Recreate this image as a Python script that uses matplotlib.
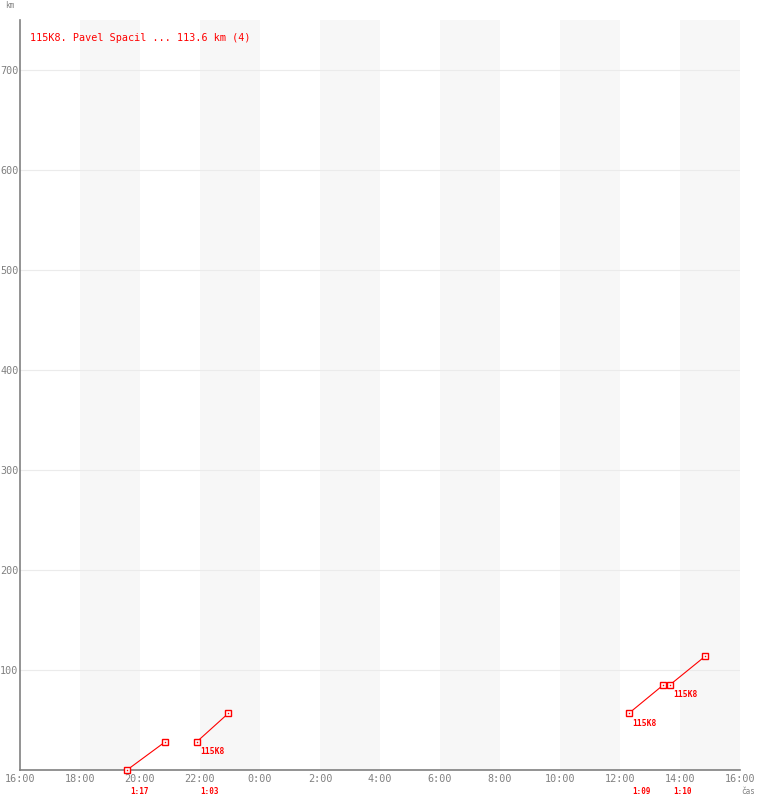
import matplotlib
matplotlib.use("Agg")
import matplotlib.pyplot as plt
from matplotlib.ticker import FixedLocator

# legs of the route: start time, duration, km at start / end
leg_start = ["19:34", "21:54", "12:18", "13:40"]
leg_duration = ["1:17", "1:03", "1:09", "1:10"]
km_from = [0, 28.4, 56.8, 85.2]
km_to = [28.4, 56.8, 85.2, 113.6]
leg_label = ["", "115K8", "115K8", "115K8"]
title = "115K8. Pavel Spacil ... 113.6 km (4)"

x_ticks = [0, 2, 4, 6, 8, 10, 12, 14, 16, 18, 20, 22, 24]
x_labels = ["16:00", "18:00", "20:00", "22:00", "0:00", "2:00", "4:00",
            "6:00", "8:00", "10:00", "12:00", "14:00", "16:00"]
y_ticks = [100, 200, 300, 400, 500, 600, 700]


def to_hours(s, base=16):
    h, m = s.split(":")
    v = int(h) + int(m) / 60 - base
    return v + 24 if v < 0 else v


def dur_hours(s):
    h, m = s.split(":")
    return int(h) + int(m) / 60


red = "#ff0000"
gray = "#808080"
mono = "DejaVu Sans Mono"

fig = plt.figure(figsize=(7.6, 8), dpi=100)
ax = fig.add_axes([20 / 760, 30 / 800, 720 / 760, 750 / 800])
ax.set_xlim(0, 24)
ax.set_ylim(0, 750)

# night/day bands
for x0 in range(2, 24, 4):
    ax.axvspan(x0, x0 + 2, color="#f7f7f7", lw=0, zorder=0)
for y in y_ticks:
    ax.axhline(y, color="#ebebeb", lw=0.8, zorder=1)

for s, d, k0, k1, lab in zip(leg_start, leg_duration, km_from, km_to, leg_label):
    x0 = to_hours(s)
    x1 = x0 + dur_hours(d)
    ax.plot([x0, x1], [k0, k1], color=red, lw=0.8, zorder=3, clip_on=False)
    ax.plot([x0, x1], [k0, k1], ls="none", marker="s", ms=5, mfc="white",
            mec=red, mew=1, zorder=4, clip_on=False)
    ax.plot([x0, x1], [k0, k1], ls="none", marker="s", ms=1, mfc=red,
            mec=red, mew=0, zorder=5, clip_on=False)
    if lab:
        ax.annotate(lab, (x0, k0), xytext=(2, -4), textcoords="offset points",
                    ha="left", va="top", color=red, fontsize=5.8,
                    family=mono, fontweight="bold")
    ax.annotate(d, (x0, 0), xytext=(2, -12.5), textcoords="offset points",
                ha="left", va="top", color=red, fontsize=5.5,
                family=mono, fontweight="bold", annotation_clip=False)

ax.text(10 / 720, 1 - 18 / 750, title, transform=ax.transAxes, color=red,
        fontsize=7.3, family=mono, va="center", ha="left")

ax.xaxis.set_major_locator(FixedLocator(x_ticks))
ax.set_xticklabels(x_labels)
ax.set_yticks(y_ticks)
ax.tick_params(axis="both", length=0, colors=gray, labelsize=7.3, pad=3)
ax.tick_params(axis="y", pad=1)
for t in ax.get_xticklabels() + ax.get_yticklabels():
    t.set_family(mono)
for sp in ["top", "right"]:
    ax.spines[sp].set_visible(False)
for sp in ["left", "bottom"]:
    ax.spines[sp].set_color(gray)
    ax.spines[sp].set_linewidth(1.2)

fig.text(5 / 760, 1 - 6 / 800, "km", color=gray, fontsize=5.5, family=mono,
         va="center", ha="left")
fig.text(741 / 760, 1 - 791 / 800, "čas", color=gray, fontsize=5.5,
         family=mono, va="center", ha="left")

fig.savefig("out.png", dpi=100, facecolor="white")
